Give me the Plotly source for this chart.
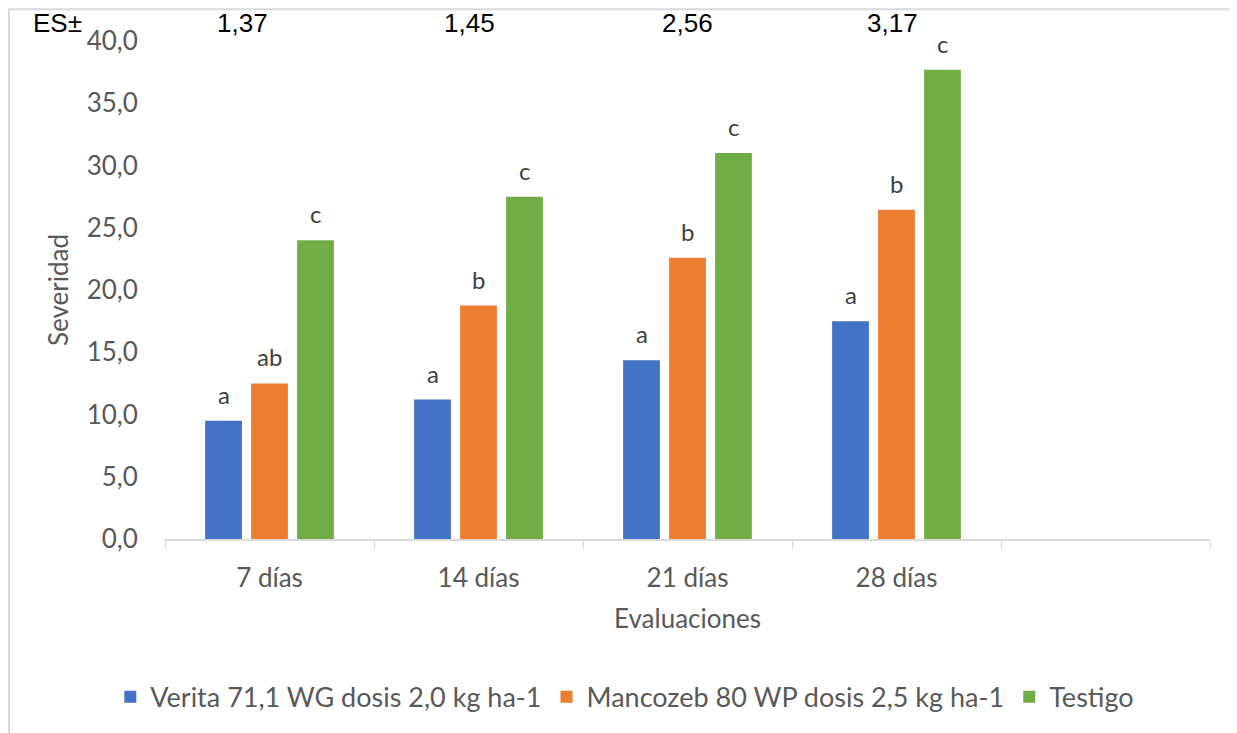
import plotly.graph_objects as go

categories = ["7 días", "14 días", "21 días", "28 días"]
empty_cat = " "
series_names = ["Verita 71,1 WG dosis 2,0 kg ha-1", "Mancozeb 80 WP dosis 2,5 kg ha-1", "Testigo"]
verita = [9.5, 11.2, 14.35, 17.5]
mancozeb = [12.5, 18.75, 22.6, 26.45]
testigo = [24.0, 27.5, 31.0, 37.7]
letters_verita = ["a", "a", "a", "a"]
letters_mancozeb = ["ab", "b", "b", "b"]
letters_testigo = ["c", "c", "c", "c"]
es_values = ["1,37", "1,45", "2,56", "3,17"]

colors = ["#4472C4", "#ED7D31", "#70AD47"]
values = [verita, mancozeb, testigo]
letters = [letters_verita, letters_mancozeb, letters_testigo]

fig = go.Figure()
for name, vals, col in zip(series_names, values, colors):
    fig.add_trace(go.Bar(x=categories, y=vals, name=name, marker=dict(color=col, line=dict(width=0))))

gray = "#595959"
font_main = "Lato, 'Open Sans', sans-serif"
font_es = "Liberation Sans, Arial, sans-serif"

annotations = []
slot = 46
for i, (vals, labs) in enumerate(zip(values, letters)):
    for c, v, t in zip(categories, vals, labs):
        annotations.append(dict(x=c, y=v, xref="x", yref="y", text=t, showarrow=False,
                                yanchor="bottom", yshift=10, xshift=(i - 1) * slot,
                                font=dict(family=font_main, size=24, color="#404040")))

es_shifts = [-27, -9, 0, -4]
for c, t, s in zip(categories, es_values, es_shifts):
    annotations.append(dict(x=c, y=1.036, xref="x", yref="paper", text=t, showarrow=False,
                            xshift=s, yanchor="middle",
                            font=dict(family=font_es, size=26, color="#000000")))
annotations.append(dict(x=-0.103, y=1.036, xref="paper", yref="paper", text="ES±", showarrow=False,
                        xanchor="center", yanchor="middle", font=dict(family=font_es, size=26, color="#000000")))

fig.update_layout(
    width=1229, height=725,
    margin=dict(l=157, r=27, t=33, b=193),
    paper_bgcolor="white", plot_bgcolor="white",
    barmode="group", bargap=0.34, bargroupgap=0.2,
    separators=", ",
    font=dict(family=font_main, color=gray, size=26),
    showlegend=True,
    legend=dict(orientation="h", x=0.44, xanchor="center", y=-0.315, yanchor="middle",
                font=dict(family=font_main, size=27, color=gray), itemwidth=30,
                tracegroupgap=0),
    annotations=annotations,
    shapes=[dict(type="rect", xref="paper", yref="paper", x0=-0.1493, x1=1.5, y0=-1.0, y1=1.064,
                 line=dict(color="#D9D9D9", width=2), fillcolor="rgba(0,0,0,0)", layer="below")],
)
fig.update_xaxes(
    type="category", categoryorder="array", categoryarray=categories + [empty_cat],
    range=[-0.5, 4.5], tickson="boundaries", ticks="outside", ticklen=8, tickcolor="#D9D9D9",
    showline=True, linecolor="#D9D9D9", linewidth=2, showgrid=False,
    tickfont=dict(family=font_main, size=26, color=gray), ticklabelstandoff=15,
    title=dict(text="Evaluaciones", font=dict(family=font_main, size=26, color=gray), standoff=18),
)
fig.update_yaxes(
    range=[0, 40], dtick=5, tickformat=".1f", showgrid=False, zeroline=False, showline=False,
    ticks="outside", ticklen=21, tickcolor="rgba(0,0,0,0)",
    tickfont=dict(family=font_main, size=26, color=gray),
    title=dict(text="Severidad", font=dict(family=font_main, size=26, color=gray), standoff=10),
)
fig.write_html("out.html")
